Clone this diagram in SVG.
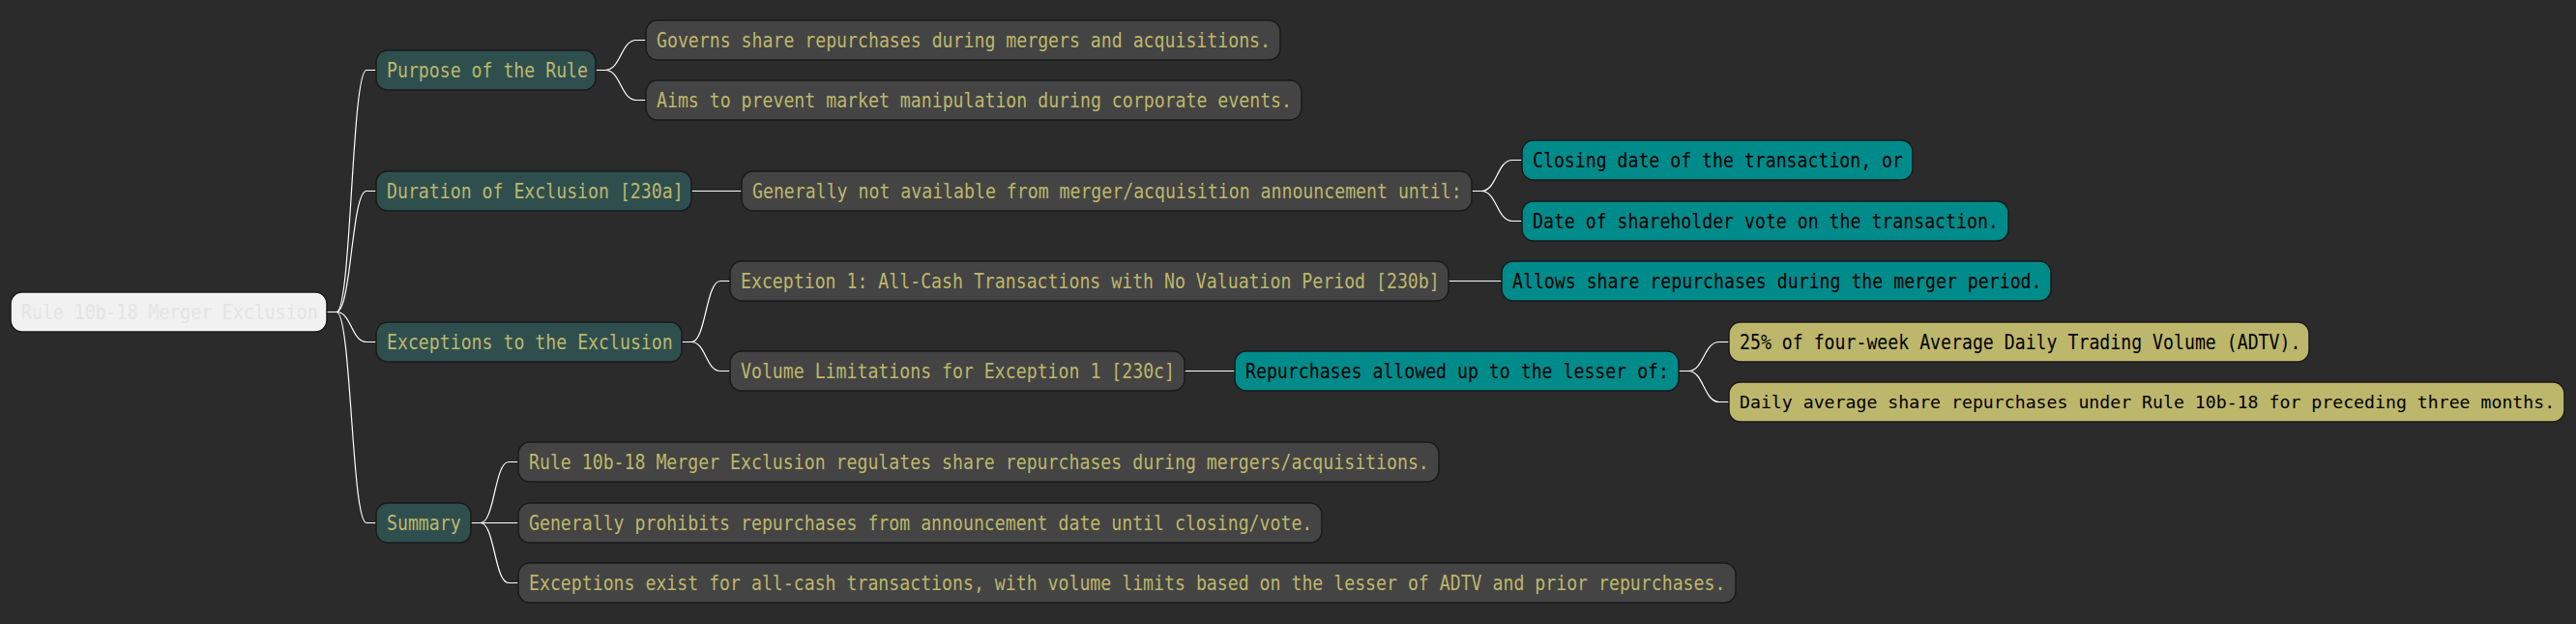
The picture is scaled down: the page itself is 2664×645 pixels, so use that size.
<svg xmlns="http://www.w3.org/2000/svg" width="2664" height="645" viewBox="0 0 2664 645">
<style>
.bg{fill:#2b2b2b}
.box{stroke:#1a1a1a;stroke-width:1.5}
.root{fill:#f1f1f1}
.l1{fill:#2f4f4f}
.gray{fill:#444444}
.teal{fill:#008b8b}
.khaki{fill:#bdb76b}
text{font-family:"DejaVu Sans Mono","Liberation Mono",monospace;font-size:21px}
.tk{fill:#bdb76b}
.tb{fill:#000000}
.tr{fill:#e4e4e4}
.sm{font-size:18.2px}
.conn path{fill:none;stroke:#ffffff;stroke-width:1.2}
</style>
<rect class="bg" x="0" y="0" width="2664" height="645"/>
<g class="conn" id="connectors">
<path d="M338,322.5 H348 C363.5,322.5 363.5,72.5 379,72.5 H389"/>
<path d="M338,322.5 H348 C363.5,322.5 363.5,197.5 379,197.5 H389"/>
<path d="M338,322.5 H348 C363.5,322.5 363.5,353.5 379,353.5 H389"/>
<path d="M338,322.5 H348 C363.5,322.5 363.5,540.5 379,540.5 H389"/>
<path d="M616,72.5 H626 C642,72.5 642,41.5 658,41.5 H668"/>
<path d="M616,72.5 H626 C642,72.5 642,103.5 658,103.5 H668"/>
<path d="M715,197.5 H767"/>
<path d="M1522,197.5 H1532 C1548,197.5 1548,165.5 1564,165.5 H1574"/>
<path d="M1522,197.5 H1532 C1548,197.5 1548,228.5 1564,228.5 H1574"/>
<path d="M705,353.5 H715 C730,353.5 730,290.5 745,290.5 H755"/>
<path d="M705,353.5 H715 C730,353.5 730,383.5 745,383.5 H755"/>
<path d="M1498,290.5 H1553"/>
<path d="M1225,383.5 H1277"/>
<path d="M1736,383.5 H1746 C1762,383.5 1762,353.5 1778,353.5 H1788"/>
<path d="M1736,383.5 H1746 C1762,383.5 1762,415.5 1778,415.5 H1788"/>
<path d="M487,540.5 H497 C511.5,540.5 511.5,477.5 526,477.5 H536"/>
<path d="M487,540.5 H536"/>
<path d="M487,540.5 H497 C511.5,540.5 511.5,602.5 526,602.5 H536"/>
</g>
<g id="root"><rect class="box root" x="11" y="302" width="327" height="41" rx="12"/><text class="tr" x="22" y="330" textLength="306.6" lengthAdjust="spacingAndGlyphs">Rule 10b-18 Merger Exclusion</text></g>
<g id="purpose"><rect class="box l1" x="389" y="52" width="227" height="41" rx="12"/><text class="tk" x="400" y="80" textLength="208" lengthAdjust="spacingAndGlyphs">Purpose of the Rule</text></g>
<g id="duration"><rect class="box l1" x="389" y="177" width="326" height="41" rx="12"/><text class="tk" x="400" y="205" textLength="306.6" lengthAdjust="spacingAndGlyphs">Duration of Exclusion [230a]</text></g>
<g id="exceptions"><rect class="box l1" x="389" y="333" width="316" height="41" rx="12"/><text class="tk" x="400" y="361" textLength="295.7" lengthAdjust="spacingAndGlyphs">Exceptions to the Exclusion</text></g>
<g id="summary"><rect class="box l1" x="389" y="520" width="98" height="41" rx="12"/><text class="tk" x="400" y="548" textLength="76.6" lengthAdjust="spacingAndGlyphs">Summary</text></g>
<g id="governs"><rect class="box gray" x="668" y="21" width="656" height="41" rx="12"/><text class="tk" x="679" y="49" textLength="635" lengthAdjust="spacingAndGlyphs">Governs share repurchases during mergers and acquisitions.</text></g>
<g id="aims"><rect class="box gray" x="668" y="83" width="678" height="41" rx="12"/><text class="tk" x="679" y="111" textLength="657" lengthAdjust="spacingAndGlyphs">Aims to prevent market manipulation during corporate events.</text></g>
<g id="generally"><rect class="box gray" x="767" y="177" width="755" height="41" rx="12"/><text class="tk" x="778" y="205" textLength="733.6" lengthAdjust="spacingAndGlyphs">Generally not available from merger/acquisition announcement until:</text></g>
<g id="closing"><rect class="box teal" x="1574" y="145" width="404" height="41" rx="12"/><text class="tb" x="1585" y="173" textLength="383" lengthAdjust="spacingAndGlyphs">Closing date of the transaction, or</text></g>
<g id="vote"><rect class="box teal" x="1574" y="208" width="503" height="41" rx="12"/><text class="tb" x="1585" y="236" textLength="481.8" lengthAdjust="spacingAndGlyphs">Date of shareholder vote on the transaction.</text></g>
<g id="exception1"><rect class="box gray" x="755" y="270" width="743" height="41" rx="12"/><text class="tk" x="766" y="298" textLength="722.7" lengthAdjust="spacingAndGlyphs">Exception 1: All-Cash Transactions with No Valuation Period [230b]</text></g>
<g id="volume"><rect class="box gray" x="755" y="363" width="470" height="41" rx="12"/><text class="tk" x="766" y="391" textLength="449" lengthAdjust="spacingAndGlyphs">Volume Limitations for Exception 1 [230c]</text></g>
<g id="allows"><rect class="box teal" x="1553" y="270" width="568" height="41" rx="12"/><text class="tb" x="1564" y="298" textLength="547.5" lengthAdjust="spacingAndGlyphs">Allows share repurchases during the merger period.</text></g>
<g id="lesser"><rect class="box teal" x="1277" y="363" width="459" height="41" rx="12"/><text class="tb" x="1288" y="391" textLength="438" lengthAdjust="spacingAndGlyphs">Repurchases allowed up to the lesser of:</text></g>
<g id="adtv"><rect class="box khaki" x="1788" y="333" width="600" height="41" rx="12"/><text class="tb" x="1799" y="361" textLength="580.4" lengthAdjust="spacingAndGlyphs">25% of four-week Average Daily Trading Volume (ADTV).</text></g>
<g id="daily"><rect class="box khaki" x="1788" y="395" width="864" height="41" rx="12"/><text class="tb sm" x="1799" y="422">Daily average share repurchases under Rule 10b-18 for preceding three months.</text></g>
<g id="sum1"><rect class="box gray" x="536" y="457" width="952" height="41" rx="12"/><text class="tk" x="547" y="485" textLength="930.8" lengthAdjust="spacingAndGlyphs">Rule 10b-18 Merger Exclusion regulates share repurchases during mergers/acquisitions.</text></g>
<g id="sum2"><rect class="box gray" x="536" y="520" width="831" height="41" rx="12"/><text class="tk" x="547" y="548" textLength="810.3" lengthAdjust="spacingAndGlyphs">Generally prohibits repurchases from announcement date until closing/vote.</text></g>
<g id="sum3"><rect class="box gray" x="536" y="582" width="1259" height="41" rx="12"/><text class="tk" x="547" y="610" textLength="1237.4" lengthAdjust="spacingAndGlyphs">Exceptions exist for all-cash transactions, with volume limits based on the lesser of ADTV and prior repurchases.</text></g>
</svg>
